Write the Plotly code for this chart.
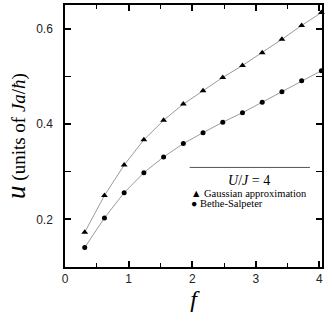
import plotly.graph_objects as go

f_vals = [0.31, 0.62, 0.93, 1.24, 1.55, 1.86, 2.17, 2.48, 2.79, 3.10, 3.41, 3.72, 4.03]
gaussian = [0.173, 0.250, 0.314, 0.367, 0.408, 0.442, 0.470, 0.498, 0.523, 0.550, 0.578, 0.607, 0.634]
bethe_salpeter = [0.141, 0.203, 0.256, 0.298, 0.331, 0.359, 0.382, 0.404, 0.424, 0.446, 0.468, 0.491, 0.512]

x_ticks = [0, 1, 2, 3, 4]
y_ticks = [0.2, 0.4, 0.6]

serif = "Liberation Serif"
sans = "Liberation Sans"

fig = go.Figure()
fig.add_trace(go.Scatter(
    x=f_vals, y=gaussian, mode="lines+markers", cliponaxis=False,
    line=dict(color="#808080", width=0.8),
    marker=dict(symbol="triangle-up", size=6, color="black"),
    showlegend=False,
))
fig.add_trace(go.Scatter(
    x=f_vals, y=bethe_salpeter, mode="lines+markers", cliponaxis=False,
    line=dict(color="#808080", width=0.8),
    marker=dict(symbol="circle", size=5, color="black"),
    showlegend=False,
))

axis_common = dict(
    showgrid=False, zeroline=False, showline=True, linecolor="black", linewidth=1.5,
    mirror="ticks", ticks="inside", ticklen=6, tickwidth=1.5, tickcolor="black",
    tickfont=dict(family=sans, size=12, color="#222"), automargin=False,
)

fig.update_layout(
    width=332, height=321,
    margin=dict(l=65, r=10, t=5, b=54),
    plot_bgcolor="white", paper_bgcolor="white",
    xaxis=dict(
        range=[0, 4.04], tickvals=x_ticks,
        minor=dict(dtick=0.5, ticks="inside", ticklen=4, tickcolor="black", tickwidth=1.2),
        title=dict(text="<i>f</i>", font=dict(family=serif, size=24, color="black"), standoff=4),
        **axis_common,
    ),
    yaxis=dict(
        range=[0.1, 0.65], tickvals=y_ticks, ticktext=["0.2", "0.4", "0.6"],
        minor=dict(dtick=0.1, ticks="inside", ticklen=6, tickcolor="black", tickwidth=1.2),
        ticklabelstandoff=8,
        title=dict(
            text="<i><span style='font-size:27px'>u</span></i> (units of <i>Ja</i>/<i>ħ</i>)",
            font=dict(family=serif, size=19, color="black"), standoff=6,
        ),
        **axis_common,
    ),
)

# legend box drawn as annotations
fig.add_shape(type="line", xref="x", yref="y", x0=1.96, x1=3.85, y0=0.309, y1=0.309,
              line=dict(color="#555", width=1))
fig.add_annotation(x=2.89, y=0.281, xref="x", yref="y", showarrow=False, borderpad=0,
                   text="<i>U</i>/<i>J</i> = 4", font=dict(family=serif, size=14, color="black"))
fig.add_annotation(x=1.97, y=0.255, xref="x", yref="y", showarrow=False, xanchor="left", borderpad=0,
                   text="▲ Gaussian approximation", font=dict(family=serif, size=10.5, color="black"))
fig.add_annotation(x=1.97, y=0.233, xref="x", yref="y", showarrow=False, xanchor="left", borderpad=0,
                   text="● Bethe-Salpeter", font=dict(family=serif, size=10.5, color="black"))

fig.write_html("out.html", config={"displayModeBar": False},
               post_script="document.body.style.margin='0';")
